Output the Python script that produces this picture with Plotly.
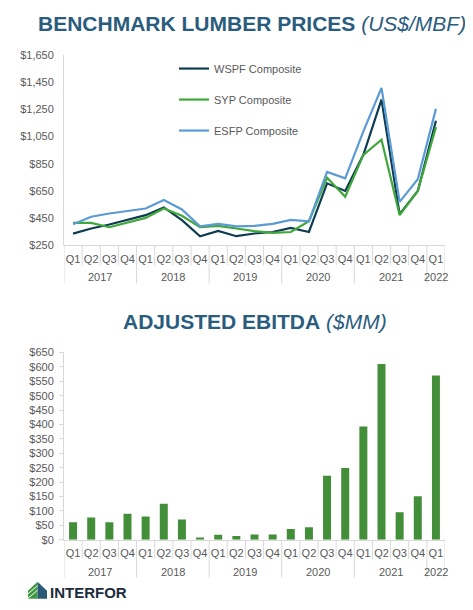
import plotly.graph_objects as go

W, H = 473, 610
X_OFF = 8                 # horizontal offset of the figure in the window
Y_OFF, Y_SCALE = 14, 0.979  # observed vertical placement of the figure in the window

# ---------------- data ----------------
years = ["2017"] * 4 + ["2018"] * 4 + ["2019"] * 4 + ["2020"] * 4 + ["2021"] * 4 + ["2022"]
quarters = ["Q1", "Q2", "Q3", "Q4"] * 5 + ["Q1"]
year_labels = ["2017", "2018", "2019", "2020", "2021", "2022"]

wspf = [336, 374, 403, 435, 472, 529, 435, 317, 356, 317, 337, 348,
        378, 348, 706, 650, 916, 1322, 479, 650, 1167]
syp = [415, 415, 383, 418, 452, 521, 467, 383, 393, 374, 354, 341,
       348, 427, 748, 607, 916, 1027, 472, 650, 1120]
esfp = [405, 460, 484, 504, 521, 583, 514, 390, 408, 390, 393, 408,
        437, 427, 790, 743, 1088, 1409, 570, 736, 1254]

ebitda = [61, 77, 61, 90, 81, 125, 70, 8, 17, 13, 18, 18,
          37, 43, 222, 249, 393, 610, 95, 151, 570]

price_ticks = [250, 450, 650, 850, 1050, 1250, 1450, 1650]
ebitda_ticks = list(range(0, 651, 50))

series_names = ["WSPF Composite", "SYP Composite", "ESFP Composite"]
series_colors = ["#0E3D52", "#40A83A", "#5B9BD5"]

# ---------------- helpers ----------------
def px(x):  # window pixel -> paper x
    return (x - X_OFF) / W

def py(y):  # window pixel -> paper y
    return 1 - ((y - Y_OFF) / Y_SCALE) / H

def money(v):
    return "$" + f"{v:,}"

FONT = "Liberation Sans, Arial, sans-serif"
GRAY = "#595959"
LINE = "#D9D9D9"
TITLE = "#2A5C7E"

cats = [f"{y} {q}" for y, q in zip(years, quarters)]
n = len(cats)

fig = go.Figure()

for name, vals, col in zip(series_names, [wspf, syp, esfp], series_colors):
    fig.add_trace(go.Scatter(
        x=cats, y=vals, mode="lines", name=name,
        line=dict(color=col, width=2.2), legendgroup=name,
        xaxis="x", yaxis="y",
    ))

fig.add_trace(go.Bar(
    x=cats, y=ebitda, marker=dict(color="#438E38", line=dict(width=0)),
    showlegend=False, xaxis="x2", yaxis="y2",
))

xcommon = dict(
    type="category", categoryorder="array", categoryarray=cats,
    range=[-0.5, n - 0.5], tickmode="array", tickvals=cats, ticktext=quarters,
    showline=True, linecolor=LINE, linewidth=1,
    ticks="outside", ticklen=3, tickcolor="rgba(0,0,0,0)", tickangle=0,
    tickfont=dict(family=FONT, size=11, color=GRAY),
    showgrid=False, zeroline=False, fixedrange=True,
)
ycommon = dict(
    tickmode="array", showline=True, linecolor=LINE, linewidth=1,
    showgrid=False, zeroline=False, fixedrange=True, ticklabelstandoff=3,
    tickfont=dict(family=FONT, size=11, color=GRAY),
)

fig.update_layout(
    width=W, height=H,
    margin=dict(l=0, r=0, t=0, b=0),
    paper_bgcolor="white", plot_bgcolor="white",
    font=dict(family=FONT, color=GRAY, size=11),
    bargap=0.56,
    xaxis=dict(domain=[px(64), px(445)], anchor="y", **xcommon),
    yaxis=dict(domain=[py(245), py(55)], anchor="x", range=[250, 1650],
               tickvals=price_ticks, ticktext=[money(v) for v in price_ticks],
               ticks="outside", ticklen=4, tickcolor="rgba(0,0,0,0)", **ycommon),
    xaxis2=dict(domain=[px(64), px(445)], anchor="y2", **xcommon),
    yaxis2=dict(domain=[py(539), py(352)], anchor="x2", range=[0, 650],
                tickvals=ebitda_ticks, ticktext=[money(v) for v in ebitda_ticks],
                ticks="outside", ticklen=4, tickcolor=LINE, **ycommon),
    legend=dict(x=px(174), y=py(54), xanchor="left", yanchor="top",
                bgcolor="rgba(0,0,0,0)", tracegroupgap=12,
                font=dict(family=FONT, size=11, color=GRAY)),
    showlegend=True,
)

# category separators and year labels for both charts
year_bounds = [0]
for i in range(1, n):
    if years[i] != years[i - 1]:
        year_bounds.append(i)
year_bounds.append(n)

for xa, axis_y, q_end, y_end, year_y in (("x", 245, 265, 283, 277),
                                         ("x2", 539, 558, 577, 571)):
    for b in range(n + 1):
        is_year = b in year_bounds
        fig.add_shape(type="line", xref=xa, yref="paper",
                      x0=b - 0.5, x1=b - 0.5,
                      y0=py(axis_y), y1=py(y_end if is_year else q_end),
                      line=dict(color=LINE, width=1))
    for k, yl in enumerate(year_labels):
        a, b = year_bounds[k], year_bounds[k + 1]
        fig.add_annotation(text=yl, xref=xa, yref="paper",
                           x=(a + b - 1) / 2, y=py(year_y),
                           showarrow=False, xanchor="center", yanchor="middle",
                           font=dict(family=FONT, size=11, color=GRAY))

fig.add_annotation(
    text="<b>BENCHMARK LUMBER PRICES</b> <i>(US$/MBF)</i>",
    x=px(252), y=py(23), xref="paper", yref="paper", showarrow=False,
    xanchor="center", yanchor="middle",
    font=dict(family=FONT, size=21, color=TITLE),
)
fig.add_annotation(
    text="<b>ADJUSTED EBITDA</b> <i>($MM)</i>",
    x=px(255), y=py(321), xref="paper", yref="paper", showarrow=False,
    xanchor="center", yanchor="middle",
    font=dict(family=FONT, size=21, color=TITLE),
)

# ---------------- logo ----------------
def path(points):
    return "M " + " L ".join(f"{px(a):.5f},{py(b):.5f}" for a, b in points) + " Z"

fig.add_shape(type="path", xref="paper", yref="paper",
              path=path([(37.5, 581), (28, 590), (28, 598), (37.5, 598)]),
              fillcolor="#3E9A3E", line=dict(width=0))
fig.add_shape(type="path", xref="paper", yref="paper",
              path=path([(37.5, 581), (47, 590), (47, 598), (37.5, 598)]),
              fillcolor="#2B5A78", line=dict(width=0))
for off in (0, 4.5):
    fig.add_shape(type="line", xref="paper", yref="paper",
                  x0=px(28), y0=py(593 + off), x1=px(37.5), y1=py(585 + off),
                  line=dict(color="white", width=1))
fig.add_annotation(
    text="<b>INTERFOR</b>", x=px(48), y=py(592), xref="paper", yref="paper",
    showarrow=False, xanchor="left", yanchor="middle",
    font=dict(family=FONT, size=15, color="#1C2B3D"),
)

fig.write_html("out.html")
